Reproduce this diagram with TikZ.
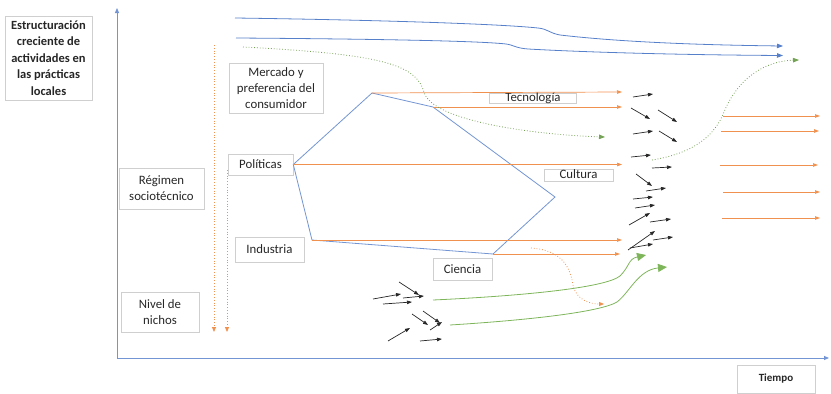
\documentclass[tikz,border=0pt]{standalone}
\usepackage{fontspec}
\setmainfont{Carlito}
\usetikzlibrary{arrows.meta}
\definecolor{oblue}{HTML}{4472C4}
\definecolor{oorange}{HTML}{ED7D31}
\definecolor{ogreen}{HTML}{70AD47}
\definecolor{boxgray}{HTML}{CFCFCF}
\begin{document}
\begin{tikzpicture}[x=1pt,y=-1pt,
  lbl/.style={draw=boxgray, line width=0.6pt, inner sep=0pt, align=center,
    font=\fontsize{12.8}{16}\selectfont, text=black!85},
  blbl/.style={lbl, font=\bfseries\fontsize{11}{16.5}\selectfont},
  axis/.style={oblue!75, line width=0.8pt, -{Triangle[length=5pt,width=4pt]}},
  bluear/.style={oblue!90, line width=0.8pt, -{Triangle[length=6pt,width=4.5pt]}},
  orar/.style={oorange!85, line width=0.7pt, -{Triangle[length=5pt,width=3.5pt]}},
  ordot/.style={oorange!85, line width=0.8pt, dotted, -{Triangle[length=5pt,width=4pt]}},
  grdot/.style={ogreen!75!gray, line width=0.8pt, dotted, -{Triangle[length=6pt,width=4.5pt]}},
  grar/.style={ogreen!90, line width=0.8pt, -{Triangle[length=9pt,width=8pt]}},
  bkar/.style={black!85, line width=0.7pt, -{Triangle[length=5pt,width=3.5pt]}},
  poly/.style={oblue!75, line width=0.8pt}]
\useasboundingbox (0,0) rectangle (831,394);

% boxes
\node[blbl, font=\bfseries\fontsize{12.5}{16.5}\selectfont, minimum width=87pt, minimum height=84pt] (est) at (48.5,58)
  {Estructuración\\creciente de\\actividades en\\las prácticas\\locales};
\node[blbl, minimum width=78pt, minimum height=28pt] (tiempo) at (776,379) {Tiempo};
\node[lbl, minimum width=94pt, minimum height=50pt] (mercado) at (276,88)
  {Mercado y\\preferencia del\\consumidor};
\node[lbl, minimum width=87pt, text height=8pt, text depth=2pt] (tecno) at (533,98) {Tecnología};
\node[lbl, minimum width=65pt, minimum height=21pt] (politicas) at (260.5,164.5) {Políticas};
\node[lbl, minimum width=85pt, minimum height=41pt] (regimen) at (161.5,188.5) {Régimen\\sociotécnico};
\node[lbl, minimum width=69pt, minimum height=25pt] (industria) at (269.5,249.5) {Industria};
\node[lbl, minimum width=69pt, text height=9pt, text depth=3pt] (cultura) at (578.5,175.5) {Cultura};
\node[lbl, minimum width=59pt, minimum height=22pt] (ciencia) at (462.5,269) {Ciencia};
\node[lbl, minimum width=78pt, minimum height=40pt] (nichos) at (160,312) {Nivel de\\nichos};

% axes
\coordinate (O) at (117,358);
\coordinate (Ytop) at (117,8);
\coordinate (Xend) at (829,358);
\draw[axis] (O) -- (Ytop);
\draw[axis] (O) -- (Xend);

% top blue lines
\coordinate (b1s) at (235,18);
\coordinate (b1e) at (783,46);
\coordinate (b2s) at (236,38);
\coordinate (b2e) at (783,55.5);
\draw[bluear] (b1s) .. controls (380,20) and (500,24) .. (538,28)
  .. controls (548,29) and (549,33) .. (560,35)
  .. controls (620,42) and (700,45) .. (b1e);
\draw[bluear] (b2s) .. controls (380,39) and (480,41) .. (506,44)
  .. controls (514,45) and (515,48) .. (528,49)
  .. controls (600,53) and (700,55) .. (b2e);

% polygon
\coordinate (P1) at (372,93);
\coordinate (P2) at (433,107);
\coordinate (P3) at (555,197);
\coordinate (P4) at (493,254);
\coordinate (P5) at (312,240);
\coordinate (P6) at (politicas.east);
\draw[poly] (P1) -- (P2) -- (P3) -- (P4) -- (P5) -- (P6) -- cycle;

% orange arrows (left group)
\coordinate (o1) at (622,92);
\coordinate (o2) at (622,107);
\coordinate (o3) at (622,165);
\coordinate (o4) at (622,240);
\coordinate (o5) at (620,255);
\draw[orar] (P1) -- (o1);
\draw[orar] (P2) -- (o2);
\draw[orar] (P6) -- (o3 |- P6);
\draw[orar] (P5) -- (o4);
\draw[orar] (P4) -- (o5 |- P4);

% orange arrows (right group)
\foreach \y/\xa/\xb in {116/723/820, 131/721/819, 165/720/818, 192/723/820, 218/722/820}
  \draw[orar] (\xa,\y) -- (\xb,\y);

% orange dotted verticals
\coordinate (v1s) at (214,45);
\coordinate (v1e) at (214,332);
\coordinate (v2s) at (227,170);
\coordinate (v2e) at (227,332);
\draw[ordot] (v1s) -- (v1e);
\draw[ordot] (v2s) -- (v2e);

% orange dotted curve
\coordinate (oc1) at (531,248);
\coordinate (oc2) at (604,304);
\draw[ordot] (oc1) .. controls (560,250) and (570,265) .. (573,285)
  .. controls (576,300) and (590,304) .. (oc2);

% green dotted curves
\coordinate (g1s) at (243,47);
\coordinate (g1e) at (605,137);
\draw[grdot] (g1s) .. controls (380,54) and (416,64) .. (424,92)
  .. controls (432,122) and (540,135) .. (g1e);
\coordinate (g2s) at (652,160);
\coordinate (g2e) at (799,60);
\draw[grdot] (g2s) .. controls (695,153) and (715,135) .. (724,112)
  .. controls (738,78) and (765,61) .. (g2e);

% green solid curves
\coordinate (gs1) at (433,300);
\coordinate (ge1) at (646,255);
\coordinate (gs2) at (450,325);
\coordinate (ge2) at (667,267);
\draw[grar] (gs1) .. controls (520,296) and (605,288) .. (620,276)
  .. controls (630,266) and (628,259) .. (ge1);
\draw[grar] (gs2) .. controls (530,320) and (600,312) .. (617,302)
  .. controls (630,292) and (638,270) .. (ge2);

% small black arrows (regime cluster)
\foreach \xa/\ya/\xb/\yb in {
  633/97/653/94, 631/108/650/119, 658/110/677/122, 633/134/653/131,
  659/131/677/142, 631/157/651/155, 652/168/672/167, 636/174/652/186,
  646/191/666/188, 633/199/653/197, 635/208/655/205, 629/225/650/213,
  650/222/671/219, 628/250/655/231, 653/240/673/237, 630/248/653/244}
  \draw[bkar] (\xa,\ya) -- (\xb,\yb);

% small black arrows (niche cluster)
\foreach \xa/\ya/\xb/\yb in {
  373/299/401/294, 399/282/419/295, 383/304/412/302, 403/298/424/296,
  412/314/428/325, 423/311/440/323, 430/330/442/322, 388/341/410/328,
  420/341/442/339}
  \draw[bkar] (\xa,\ya) -- (\xb,\yb);
\end{tikzpicture}
\end{document}
